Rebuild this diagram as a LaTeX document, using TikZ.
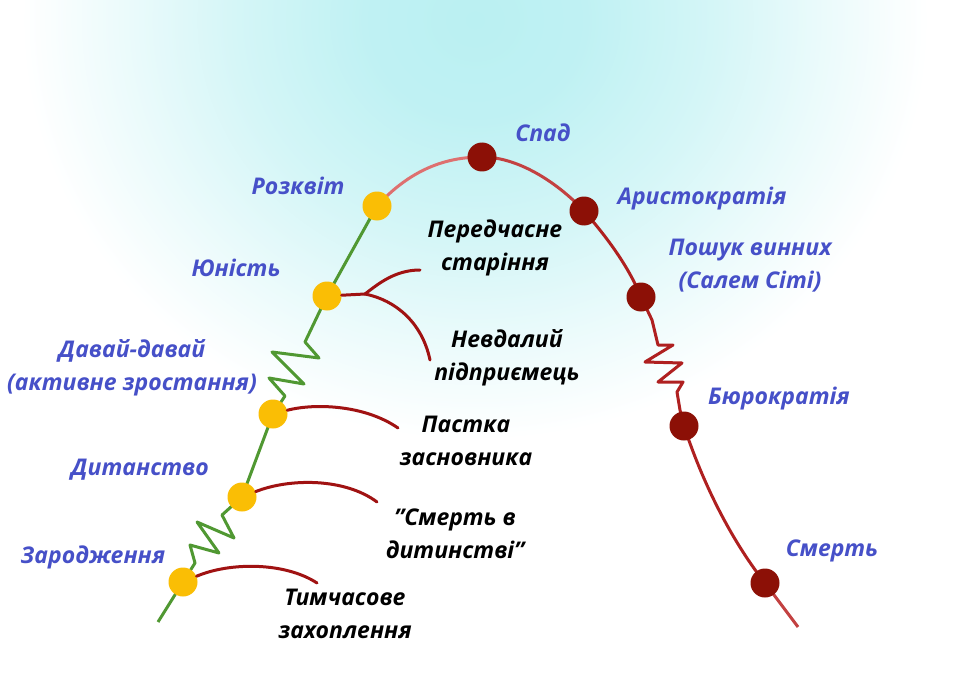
\documentclass[tikz,border=0pt]{standalone}
\usepackage{fontspec}
\setmainfont{Open Sans}
\definecolor{bgcyan}{RGB}{186,240,242}
\definecolor{gline}{RGB}{80,152,50}
\definecolor{ydot}{RGB}{250,190,5}
\definecolor{rdot}{RGB}{140,16,6}
\definecolor{rline}{RGB}{175,32,32}
\definecolor{pline}{RGB}{222,112,112}
\definecolor{mline}{RGB}{195,65,65}
\definecolor{lblue}{RGB}{70,80,200}
\definecolor{branch}{RGB}{160,18,18}
\pgfdeclareradialshading{bgglow}{\pgfpoint{0bp}{0bp}}{color(0bp)=(bgcyan); color(5bp)=(bgcyan!92!white); color(11bp)=(bgcyan!62!white); color(16bp)=(bgcyan!30!white); color(21bp)=(white); color(25bp)=(white); color(50bp)=(white)}
\begin{document}
\begin{tikzpicture}[x=1pt,y=-1pt,
  yellowdot/.style={circle,fill=ydot,minimum size=29pt,inner sep=0pt},
  reddot/.style={circle,fill=rdot,minimum size=29pt,inner sep=0pt},
  stagelbl/.style={font=\fontsize{23}{33}\selectfont\bfseries\itshape,text=lblue,align=center,inner sep=0pt},
  trap/.style={font=\fontsize{23}{33}\selectfont\bfseries\itshape,text=black,align=center,inner sep=0pt},
  greenline/.style={draw=gline,line width=3pt,line join=round},
  redline/.style={draw=rline,line width=3pt,line join=round},
  branchline/.style={draw=branch,line width=3pt,line cap=round}]
\useasboundingbox (0,0) rectangle (960,679);
\fill[white] (0,0) rectangle (960,679);
\begin{scope}
\clip (0,0) rectangle (960,679);
\shade[shading=bgglow] (475,20) ellipse [x radius=540, y radius=500];
\end{scope}
% positions
\coordinate (g0) at (158,622);
\coordinate (d1) at (183,582);
\coordinate (d2) at (242,497);
\coordinate (d3) at (273,414);
\coordinate (d4) at (327,296);
\coordinate (d5) at (377,206);
\coordinate (d6) at (482,157);
\coordinate (d7) at (584,211);
\coordinate (d8) at (641,297);
\coordinate (d9) at (684,426);
\coordinate (d10) at (765,583);
\coordinate (r0) at (798,627);
% green growth line
\draw[greenline] (g0) -- (d1) -- (195,563) -- (190,545) -- (219,553) -- (197,522) -- (234,538) -- (222,515) -- (d2)
  -- (d3) -- (285,396) -- (269,378) -- (304,384) -- (272,352) -- (319,358) -- (305,342) -- (d4) -- (d5);
% top arc
\draw[draw=pline,line width=3pt] (d5) .. controls (410,170) and (445,157) .. (d6);
\draw[draw=mline,line width=3pt] (d6) .. controls (520,157) and (560,185) .. (d7);
\draw[redline] (d7) .. controls (605,235) and (628,265) .. (d8) -- (652,320) -- (658,345) -- (673,345) -- (645,362) -- (682,363)
  -- (658,382) -- (683,382) -- (677,392) -- (680,410) -- (d9);
\draw[redline] (d9) .. controls (705,490) and (735,545) .. (d10);
\draw[draw=mline,line width=3pt] (d10) -- (r0);
% dots
\node[yellowdot] (n1) at (d1) {};
\node[yellowdot] (n2) at (d2) {};
\node[yellowdot] (n3) at (d3) {};
\node[yellowdot] (n4) at (d4) {};
\node[yellowdot] (n5) at (d5) {};
\node[reddot] (n6) at (d6) {};
\node[reddot] (n7) at (d7) {};
\node[reddot] (n8) at (d8) {};
\node[reddot] (n9) at (d9) {};
\node[reddot] (n10) at (d10) {};
% branch ends
\coordinate (fork) at (365,294);
\coordinate (e4a) at (420,270);
\coordinate (e4b) at (430,360);
\coordinate (e3) at (398,428);
\coordinate (e2) at (377,502);
\coordinate (e1) at (317,583);
\draw[branchline] (n4) -- (fork);
\draw[branchline] (fork) .. controls (378,284) and (395,270) .. (e4a);
\draw[branchline] (fork) .. controls (395,300) and (422,322) .. (e4b);
\draw[branchline] (n3) .. controls (315,403) and (365,405) .. (e3);
\draw[branchline] (n2) .. controls (290,478) and (345,478) .. (e2);
\draw[branchline] (n1) .. controls (230,562) and (285,562) .. (e1);
% stage labels
\node[stagelbl] (l6) at (543,133) {Спад};
\node[stagelbl] (l5) at (298,186) {Розквіт};
\node[stagelbl] (l7) at (702,199) {Аристократія};
\node[stagelbl] (l8) at (750,266) {Пошук винних\\(Салем Сіті)};
\node[stagelbl] (l4) at (236,268) {Юність};
\node[stagelbl] (l3) at (132,368) {Давай-давай\\(активне зростання)};
\node[stagelbl] (l9) at (779,399) {Бюрократія};
\node[stagelbl] (l2) at (140,470) {Дитанство};
\node[stagelbl] (l1) at (93,557) {Зародження};
\node[stagelbl] (l10) at (832,551) {Смерть};
% traps
\node[trap] (t4a) at (495,248) {Передчасне\\старіння};
\node[trap] (t4b) at (507,358) {Невдалий\\підприємець};
\node[trap] (t3) at (466,441) {Пастка\\засновника};
\node[trap] (t2) at (455,534) {"Смерть в\\дитинстві"};
\node[trap] (t1) at (345,614) {Тимчасове\\захоплення};
\end{tikzpicture}
\end{document}
